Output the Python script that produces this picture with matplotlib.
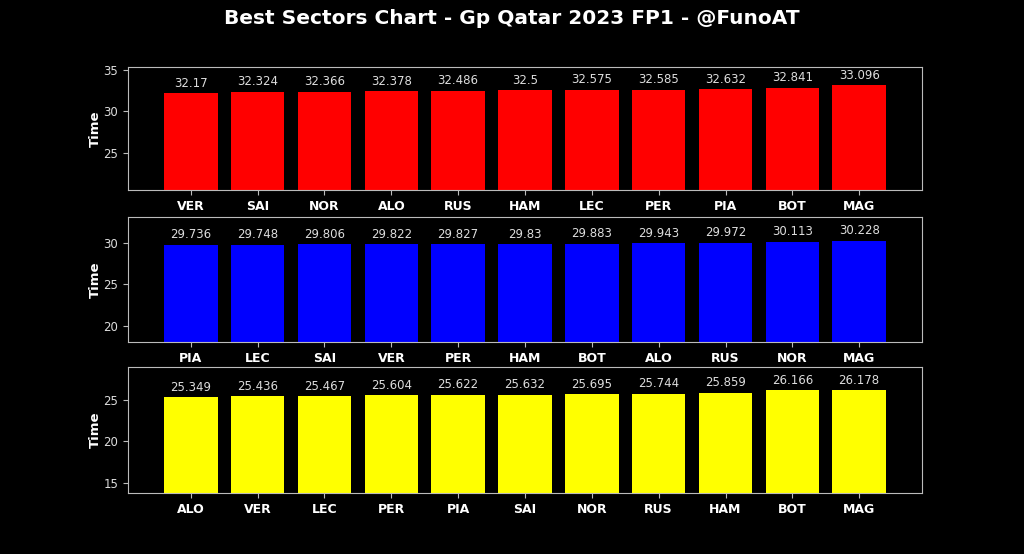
import matplotlib
matplotlib.use("Agg")
import matplotlib.pyplot as plt

s1_drivers = ["VER", "SAI", "NOR", "ALO", "RUS", "HAM", "LEC", "PER", "PIA", "BOT", "MAG"]
s1_times = [32.17, 32.324, 32.366, 32.378, 32.486, 32.5, 32.575, 32.585, 32.632, 32.841, 33.096]
s2_drivers = ["PIA", "LEC", "SAI", "VER", "PER", "HAM", "BOT", "ALO", "RUS", "NOR", "MAG"]
s2_times = [29.736, 29.748, 29.806, 29.822, 29.827, 29.83, 29.883, 29.943, 29.972, 30.113, 30.228]
s3_drivers = ["ALO", "VER", "LEC", "PER", "PIA", "SAI", "NOR", "RUS", "HAM", "BOT", "MAG"]
s3_times = [25.349, 25.436, 25.467, 25.604, 25.622, 25.632, 25.695, 25.744, 25.859, 26.166, 26.178]

colors = ["red", "blue", "yellow"]
ylims = [(20.6, 35.3), (18.08, 33.08), (13.75, 29.0)]
title = "Best Sectors Chart - Gp Qatar 2023 FP1 - @FunoAT"

fig = plt.figure(figsize=(10.24, 5.54), dpi=100, facecolor="black")
W, H = 1024, 554
boxes = [(67, 190), (217, 342), (367, 493)]
left, right = 128, 922

for (top, bot), drivers, times, col, yl in zip(
        boxes, [s1_drivers, s2_drivers, s3_drivers],
        [s1_times, s2_times, s3_times], colors, ylims):
    ax = fig.add_axes([left / W, 1 - bot / H, (right - left) / W, (bot - top) / H])
    ax.set_facecolor("black")
    bars = ax.bar(drivers, times, color=col, width=0.8)
    ax.set_ylim(*yl)
    for b, t in zip(bars, times):
        ax.annotate(f"{t:g}", (b.get_x() + b.get_width() / 2, t),
                    xytext=(0, 2.5), textcoords="offset points",
                    ha="center", va="bottom", color="#dddddd", fontsize=8.5)
    ax.set_ylabel("Time", color="white", fontsize=9.5, fontweight="bold", labelpad=1)
    for sp in ax.spines.values():
        sp.set_color("#bbbbbb")
    ax.tick_params(axis="y", colors="#bbbbbb", labelcolor="#dddddd", labelsize=8.5)
    ax.tick_params(axis="x", colors="#bbbbbb", labelcolor="white", labelsize=9)
    for lab in ax.get_xticklabels():
        lab.set_fontweight("bold")

fig.text(0.5, 1 - 19 / H, title, ha="center", va="center", color="white",
         fontsize=14.5, fontweight="bold")

fig.savefig("out.png", dpi=100, facecolor="black")
